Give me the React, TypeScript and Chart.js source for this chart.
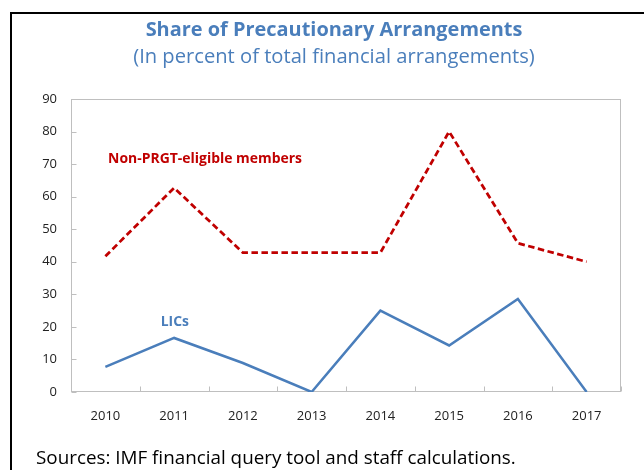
import React, { useEffect, useRef } from "react";
import { Chart, registerables } from "chart.js";

Chart.register(...registerables);

// ---- data ----
const years = ["2010", "2011", "2012", "2013", "2014", "2015", "2016", "2017"];
const nonPrgtEligible = [41.7, 62.7, 42.8, 42.8, 42.8, 80.0, 45.7, 40.0];
const lics = [7.7, 16.6, 8.9, 0, 25.0, 14.3, 28.6, 0];
const yMin = 0;
const yMax = 90;
const yStep = 10;

const titleText = "Share of Precautionary Arrangements";
const subtitleText = "(In percent of total financial arrangements)";
const sourceText = "Sources: IMF financial query tool and staff calculations.";
const seriesNames = ["Non-PRGT-eligible members", "LICs"];

const RED = "#C00000";
const BLUE = "#4A7EBB";
const FAMILY = "'Open Sans', 'Noto Sans', sans-serif";

function fitSize(ctx: CanvasRenderingContext2D, text: string, weight: string, width: number) {
  ctx.font = `${weight} 100px ${FAMILY}`;
  const w = ctx.measureText(text).width;
  return (100 * width) / w;
}

const decorPlugin = {
  id: "decor",
  beforeDatasetsDraw(chart: any) {
    const { ctx, chartArea: a, scales } = chart;
    const x = scales.x;
    const y = scales.y;
    ctx.save();
    ctx.strokeStyle = "#BFBFBF";
    ctx.lineWidth = 1;
    const L = Math.round(a.left) + 0.5;
    const R = Math.round(a.right) - 0.5;
    const T = Math.round(a.top) + 0.5;
    const B = Math.round(a.bottom) - 0.5;
    ctx.strokeRect(L, T, R - L, B - T);
    ctx.beginPath();
    // inward y ticks
    y.ticks.forEach((t: any) => {
      const py = Math.round(y.getPixelForValue(t.value)) + 0.5;
      ctx.moveTo(L, py);
      ctx.lineTo(L + 5, py);
    });
    // inward x ticks at category boundaries
    for (let i = 0; i <= years.length; i++) {
      const px = Math.round(x.getPixelForValue(i - 0.5)) + 0.5;
      ctx.moveTo(px, B);
      ctx.lineTo(px, B - 5);
    }
    ctx.stroke();
    ctx.restore();
  },
  afterDraw(chart: any) {
    const { ctx, scales } = chart;
    const x = scales.x;
    const y = scales.y;
    ctx.save();
    ctx.textBaseline = "alphabetic";

    // title
    ctx.fillStyle = BLUE;
    ctx.textAlign = "center";
    let s = fitSize(ctx, titleText, "bold", 377);
    ctx.font = `bold ${s}px ${FAMILY}`;
    ctx.fillText(titleText, 334, 36);
    s = fitSize(ctx, subtitleText, "normal", 402);
    ctx.font = `normal ${s}px ${FAMILY}`;
    ctx.fillText(subtitleText, 334, 63);

    // series labels
    ctx.fillStyle = RED;
    s = fitSize(ctx, seriesNames[0], "bold", 194);
    ctx.font = `bold ${s}px ${FAMILY}`;
    ctx.fillText(seriesNames[0], x.getPixelForValue(1.45), y.getPixelForValue(70.3));
    ctx.fillStyle = BLUE;
    ctx.font = `bold ${s}px ${FAMILY}`;
    ctx.fillText(seriesNames[1], x.getPixelForValue(1.01), y.getPixelForValue(20.3));

    // source
    ctx.fillStyle = "#000";
    ctx.textAlign = "left";
    s = fitSize(ctx, sourceText, "normal", 480);
    ctx.font = `normal ${s}px ${FAMILY}`;
    ctx.fillText(sourceText, 36, 464);
    ctx.restore();
  },
};

export default function App() {
  const ref = useRef<HTMLCanvasElement | null>(null);

  useEffect(() => {
    if (!ref.current) return;
    const chart = new Chart(ref.current, {
      type: "line",
      data: {
        labels: years,
        datasets: [
          {
            label: seriesNames[0],
            data: nonPrgtEligible,
            borderColor: RED,
            borderWidth: 2.75,
            borderDash: [6.5, 3.5],
            pointRadius: 0,
            tension: 0,
            fill: false,
          },
          {
            label: seriesNames[1],
            data: lics,
            borderColor: BLUE,
            borderWidth: 2.5,
            pointRadius: 0,
            tension: 0,
            fill: false,
          },
        ],
      },
      options: {
        responsive: false,
        animation: false,
        devicePixelRatio: 1,
        layout: { padding: { top: 99, left: 0, right: 23, bottom: 48 } },
        plugins: {
          legend: { display: false },
          title: { display: false },
          tooltip: { enabled: false },
        },
        scales: {
          x: {
            type: "category",
            offset: true,
            grid: { display: false, drawTicks: false },
            border: { display: false },
            ticks: {
              padding: 16,
              color: "#222",
              font: { family: FAMILY, size: 13 },
              maxRotation: 0,
              autoSkip: false,
            },
            afterFit: (scale: any) => {
              scale.height = 30;
            },
          },
          y: {
            min: yMin,
            max: yMax,
            grid: { display: false, drawTicks: false },
            border: { display: false },
            ticks: {
              stepSize: yStep,
              padding: 14,
              color: "#222",
              font: { family: FAMILY, size: 13 },
            },
            afterFit: (scale: any) => {
              scale.width = 71;
            },
          },
        },
      },
      plugins: [decorPlugin],
    });
    return () => chart.destroy();
  }, []);

  return (
    <div style={{ position: "absolute", left: 0, top: 0, width: 644, height: 470, background: "#fff" }}>
      <div
        style={{
          position: "absolute",
          left: 10,
          top: 12,
          width: 634,
          height: 458,
          borderLeft: "2px solid #000",
          borderTop: "2px solid #000",
          boxSizing: "border-box",
        }}
      />
      <canvas ref={ref} width={644} height={470} style={{ position: "absolute", left: 0, top: 0 }} />
    </div>
  );
}
